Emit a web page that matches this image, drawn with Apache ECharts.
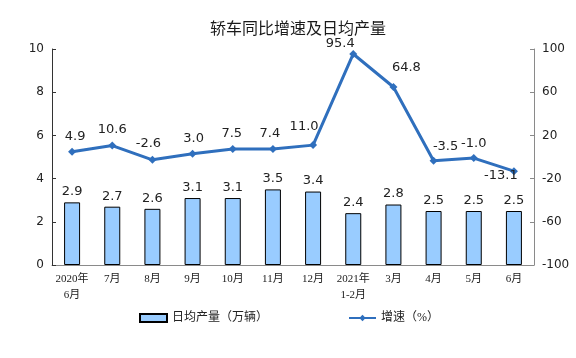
<!DOCTYPE html>
<html>
<head>
<meta charset="utf-8">
<script src="https://cdn.jsdelivr.net/npm/echarts@6/dist/echarts.min.js"></script>
<style>html,body{margin:0;padding:0;background:#fff}#c{width:576px;height:358px}</style>
</head>
<body>
<div id="c"></div>
<script>
var categories = ['2020年\n6月','7月','8月','9月','10月','11月','12月','2021年\n1-2月','3月','4月','5月','6月'];
var dailyOutput = [2.9, 2.7, 2.6, 3.1, 3.1, 3.5, 3.4, 2.4, 2.8, 2.5, 2.5, 2.5];
var growthRate = [4.9, 10.6, -2.6, 3.0, 7.5, 7.4, 11.0, 95.4, 64.8, -3.5, -1.0, -13.1];
var leftTicks = {min: 0, max: 10, interval: 2};
var rightTicks = {min: -100, max: 100, interval: 40};

// label nudges for the growth line (pixels)
var lineLabelOffsets = [[3,0],[0,0],[-4,-1],[1,0],[-1,0],[-3,0],[-9,-3],[-13,5],[13,-4],[12,1],[0,1],[-13,20]];

var lineData = growthRate.map(function (v, i) {
  return {value: v, label: {offset: lineLabelOffsets[i]}};
});

var chart = echarts.init(document.getElementById('c'), null, {renderer: 'canvas'});
var numFont = 'DejaVu Sans, Verdana, sans-serif';
chart.setOption({
  animation: false,
  backgroundColor: '#fff',
  title: {
    text: '轿车同比增速及日均产量',
    left: 205,
    top: 15,
    textStyle: {fontFamily: 'Noto Sans CJK SC', fontSize: 16, fontWeight: 'normal', color: '#1a1a1a'}
  },
  legend: {
    left: 134,
    top: 307,
    itemWidth: 27,
    itemHeight: 8,
    itemGap: 80,
    textStyle: {fontFamily: 'Liberation Serif, Noto Sans CJK SC, serif', fontSize: 12, color: '#222'},
    data: [{name: '日均产量（万辆）', icon: 'rect'}, {name: '增速（%）'}]
  },
  grid: {left: 52, right: 42, top: 49, bottom: 93},
  xAxis: {
    type: 'category',
    data: categories,
    axisLine: {lineStyle: {color: '#8a8a8a', width: 1}},
    axisTick: {inside: true, length: 5, lineStyle: {color: '#8a8a8a'}},
    axisLabel: {fontFamily: 'Liberation Serif, Noto Sans CJK SC, serif', fontSize: 11, color: '#222', lineHeight: 16, margin: 6, interval: 0}
  },
  yAxis: [
    {
      type: 'value', min: leftTicks.min, max: leftTicks.max, interval: leftTicks.interval,
      axisLine: {show: true, lineStyle: {color: '#333'}},
      axisTick: {show: true, inside: true, length: 4, lineStyle: {color: '#333'}},
      splitLine: {show: false},
      axisLabel: {fontFamily: numFont, fontSize: 12, color: '#222', margin: 8}
    },
    {
      type: 'value', min: rightTicks.min, max: rightTicks.max, interval: rightTicks.interval,
      axisLine: {show: true, lineStyle: {color: '#8a8a8a'}},
      axisTick: {show: true, inside: true, length: 4, lineStyle: {color: '#8a8a8a'}},
      splitLine: {show: false},
      axisLabel: {fontFamily: numFont, fontSize: 12, color: '#222', margin: 8}
    }
  ],
  series: [
    {
      name: '日均产量（万辆）',
      type: 'bar',
      yAxisIndex: 0,
      barWidth: 16,
      data: dailyOutput,
      itemStyle: {color: '#99ccff', borderColor: '#000', borderWidth: 1},
      label: {show: true, position: 'top', distance: 4, fontFamily: numFont, fontSize: 13, color: '#222',
        formatter: function (p) { return p.value.toFixed(1); }}
    },
    {
      name: '增速（%）',
      type: 'line',
      yAxisIndex: 1,
      data: lineData,
      symbol: 'diamond',
      symbolSize: 8,
      lineStyle: {color: '#2f6fbd', width: 3},
      itemStyle: {color: '#2f6fbd'},
      label: {show: true, position: 'top', distance: 5, fontFamily: numFont, fontSize: 13, color: '#222',
        formatter: function (p) { return p.value.toFixed(1); }}
    }
  ]
});
</script>
</body>
</html>
